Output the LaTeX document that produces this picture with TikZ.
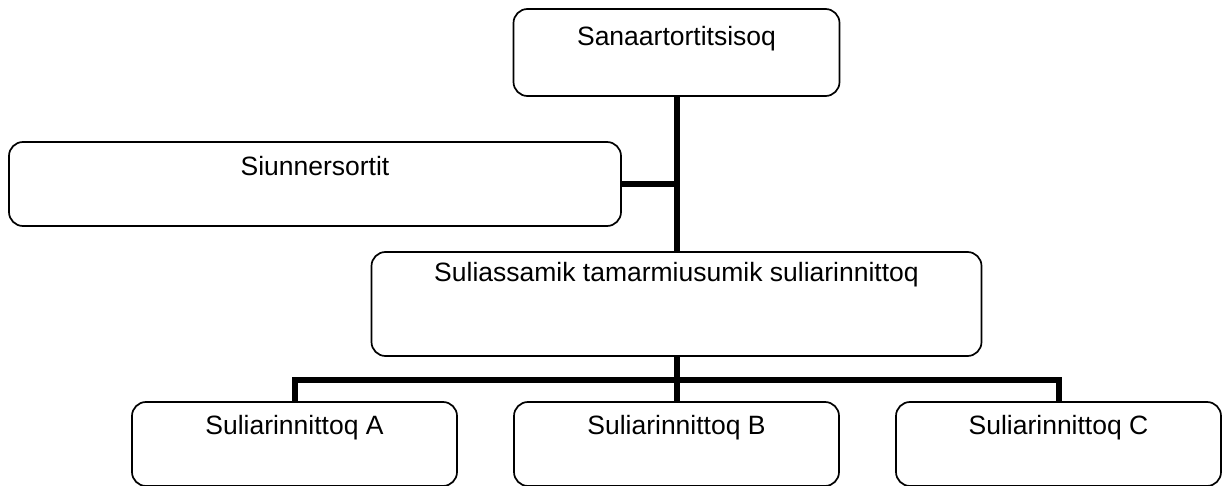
\documentclass[tikz,border=0pt]{standalone}
\usepackage{fontspec}
\setmainfont{Liberation Sans}
\begin{document}
\begin{tikzpicture}[x=1pt,y=-1pt,
  box/.style={draw=black, line width=1.7pt, rounded corners=14pt, fill=white,
    inner sep=0pt, outer sep=0pt, minimum height=85pt},
  lbl/.style={anchor=base, inner sep=0pt, font=\fontsize{26.5}{30}\selectfont},
  conn/.style={draw=black, line width=6pt, line join=miter, line cap=butt}]
\useasboundingbox[fill=white] (0,0) rectangle (1223,486);
% boxes
\node[box, minimum width=326pt, minimum height=87pt] (top) at (676.5,52.5) {};
\node[box, minimum width=612pt, minimum height=84pt] (left) at (315,184) {};
\node[box, minimum width=610pt, minimum height=104pt] (mid) at (676.5,304) {};
\node[box, minimum width=325pt, minimum height=84pt] (A) at (294.5,444) {};
\node[box, minimum width=325pt, minimum height=84pt] (B) at (676.5,444) {};
\node[box, minimum width=325pt, minimum height=84pt] (C) at (1058.5,444) {};
% texts
\node[lbl] (ttop) at (676.5,45.5) {Sanaartortitsisoq};
\node[lbl] (tleft) at (315,176) {Siunnersortit};
\node[lbl] (tmid) at (676.5,281) {Suliassamik tamarmiusumik suliarinnittoq};
\node[lbl] (tA) at (294.5,434) {Suliarinnittoq A};
\node[lbl] (tB) at (676.5,434) {Suliarinnittoq B};
\node[lbl] (tC) at (1058.5,434) {Suliarinnittoq C};
% connectors
\coordinate (bus) at (676.5,379.5);
\draw[conn] (top.south) -- (mid.north);
\draw[conn] (left.east) -- (left.east -| top.south);
\draw[conn] (mid.south) -- (B.north);
\draw[conn] (A.north) |- (bus) -| (C.north);
\end{tikzpicture}
\end{document}
